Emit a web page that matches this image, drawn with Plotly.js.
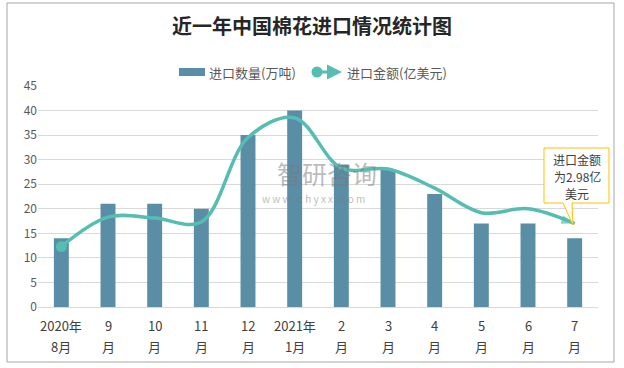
<!DOCTYPE html>
<html>
<head>
<meta charset="utf-8">
<script src="https://cdn.plot.ly/plotly-3.0.1.min.js"></script>
<style>html,body{margin:0;padding:0;background:#fff;}#chart{width:624px;height:368px;}</style>
</head>
<body>
<div id="chart"></div>
<script>
const labelTop = ['2020年', '9', '10', '11', '12', '2021年', '2', '3', '4', '5', '6', '7'];
const labelBottom = ['8月', '月', '月', '月', '月', '1月', '月', '月', '月', '月', '月', '月'];
const volume = [14, 21, 21, 20, 35, 40, 29, 28, 23, 17, 17, 14];
const amount = [12.3, 18.3, 18.1, 17.3, 34.5, 38.5, 28.3, 28.1, 24.2, 19.2, 20.0, 17.0];
const seriesNames = ['进口数量(万吨)', '进口金额(亿美元)'];
const titleText = '近一年中国棉花进口情况统计图';
const calloutLines = ['进口金额', '为2.98亿', '美元'];
const watermark = ['智研咨询', 'w w w . c h y x x . c o m'];

const idx = labelTop.map((_, i) => i);
const barColor = '#5A8EA6';
const lineColor = '#55BDB2';
const font = '"Noto Sans CJK SC", "Liberation Sans", sans-serif';

const L = 38, R = 26, T = 86, B = 61, W = 624, H = 368;
const pw = W - L - R, ph = H - T - B;
const px = x => (x - L) / pw;
const py = y => (H - B - y) / ph;

const n = amount.length;
const traces = [
  {type: 'bar', x: idx, y: volume, name: seriesNames[0], marker: {color: barColor}, width: 0.32, showlegend: false, hoverinfo: 'none'},
  {type: 'scatter', mode: 'lines+markers', x: idx, y: amount, name: seriesNames[1], showlegend: false,
   line: {color: lineColor, width: 3.5, shape: 'spline', smoothing: 1},
   marker: {color: lineColor, size: amount.map((_, i) => i === n - 1 ? 14 : 0),
            symbol: 'arrow', angleref: 'previous', line: {width: 0}},
   hoverinfo: 'none'},
  {type: 'scatter', mode: 'markers', x: [idx[0]], y: [amount[0]], showlegend: false,
   marker: {color: lineColor, size: 11, symbol: 'circle', line: {width: 0}}, hoverinfo: 'none'}
];

// callout box with tail (pixel geometry converted to paper)
const pts = [[544,148],[609,148],[609,203],[572,203],[573,225],[563,203],[544,203]];
const calloutPath = 'M ' + pts.map(p => px(p[0]).toFixed(5) + ',' + py(p[1]).toFixed(5)).join(' L ') + ' Z';

const ann = (x, y, text, size, color, xanchor) => ({
  xref: 'paper', yref: 'paper', x: x, y: y, text: text, showarrow: false,
  xanchor: xanchor || 'center', yanchor: 'middle', font: {size: size, color: color}
});

const annotations = [
  ann(px(207), py(72), seriesNames[0], 13, '#595959', 'left'),
  ann(px(345), py(72), seriesNames[1], 13, '#595959', 'left'),
  {xref: 'paper', yref: 'paper', x: px(342), y: py(72), axref: 'pixel', ayref: 'pixel', ax: -26, ay: 0, text: '',
   showarrow: true, arrowcolor: lineColor, arrowwidth: 3, arrowhead: 2, arrowsize: 1},
  ann(px(327), py(173), watermark[0], 25, 'rgba(120,120,120,0.5)'),
  ann(px(313), py(198), watermark[1], 10, 'rgba(120,120,120,0.5)')
];
calloutLines.forEach((t, i) => annotations.push(ann(px(577), py(159 + i * 17), t, 12, '#404040')));
idx.forEach(i => {
  annotations.push({xref: 'x', yref: 'paper', x: i, y: py(325), text: labelTop[i], showarrow: false,
    xanchor: 'center', yanchor: 'middle', font: {size: 13, color: '#404040'}});
  annotations.push({xref: 'x', yref: 'paper', x: i, y: py(346), text: labelBottom[i], showarrow: false,
    xanchor: 'center', yanchor: 'middle', font: {size: 13, color: '#404040'}});
});

const layout = {
  width: W, height: H,
  margin: {l: L, r: R, t: T, b: B},
  paper_bgcolor: '#fff', plot_bgcolor: '#fff',
  font: {family: font, color: '#595959', size: 12},
  title: {text: '<b>' + titleText + '</b>', x: 0.5, xanchor: 'center', y: 1 - 27 / H, yanchor: 'middle',
          font: {family: font, size: 20, color: '#262626'}},
  showlegend: false,
  xaxis: {range: [-0.5, 11.5], tickvals: idx, showticklabels: false, showgrid: false,
          showline: true, linecolor: '#D9D9D9', linewidth: 1, ticks: '', fixedrange: true},
  yaxis: {range: [0, 45], dtick: 5, showgrid: true, gridcolor: '#D9D9D9', gridwidth: 1, zeroline: false,
          showline: false, ticks: '', tickfont: {size: 12, color: '#595959'}, fixedrange: true},
  shapes: [
    {type: 'rect', xref: 'paper', yref: 'paper', x0: px(7), x1: px(614), y0: py(3), y1: py(362),
     line: {color: '#A6A6A6', width: 1}, fillcolor: 'rgba(0,0,0,0)', layer: 'below'},
    {type: 'rect', xref: 'paper', yref: 'paper', x0: px(179), x1: px(205), y0: py(76), y1: py(68),
     line: {width: 0}, fillcolor: barColor},
    {type: 'circle', xref: 'paper', yref: 'paper', xsizemode: 'pixel', ysizemode: 'pixel',
     xanchor: px(317), yanchor: py(72), x0: -5.5, x1: 5.5, y0: -5.5, y1: 5.5, line: {width: 0}, fillcolor: lineColor},
    {type: 'path', xref: 'paper', yref: 'paper', path: calloutPath, line: {color: '#FFC000', width: 1}, fillcolor: '#fff'}
  ],
  annotations: annotations
};

Plotly.newPlot('chart', traces, layout, {displayModeBar: false, staticPlot: true});
</script>
</body>
</html>
